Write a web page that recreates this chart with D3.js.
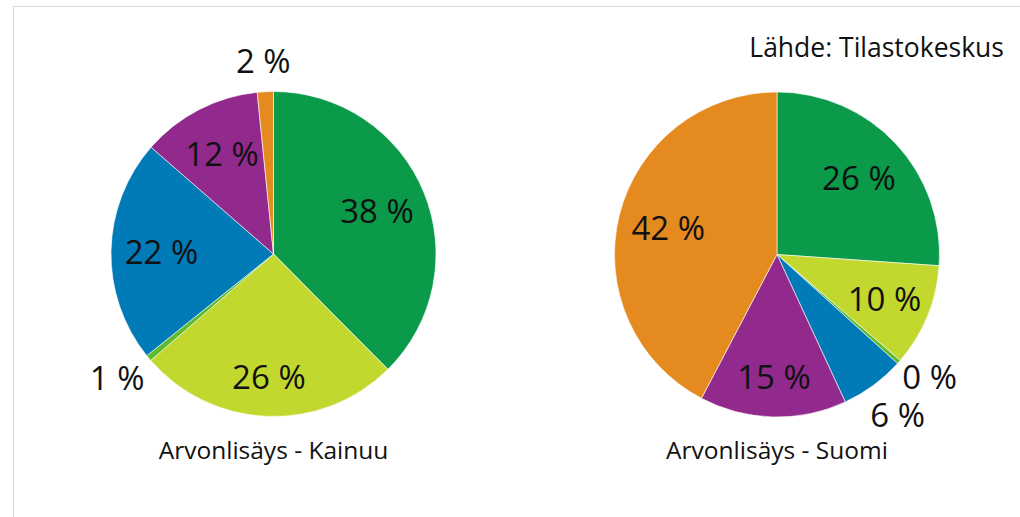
<!DOCTYPE html>
<html>
<head>
<meta charset="utf-8">
<script src="https://cdn.jsdelivr.net/npm/d3@7"></script>
<style>
  html, body { margin: 0; padding: 0; background: #fff; }
  svg { display: block; }
  text { font-family: "Open Sans", "Noto Sans", sans-serif; fill: #111; }
</style>
</head>
<body>
<svg id="chart" width="1020" height="517"></svg>
<script>
// ---- data ----
const categories = ["Sarja 1", "Sarja 2", "Sarja 3", "Sarja 4", "Sarja 5", "Sarja 6"];
const kainuuValues = [37.6, 26.1, 0.6, 22.2, 12.0, 1.6];
const kainuuLabels = ["38 %", "26 %", "1 %", "22 %", "12 %", "2 %"];
const suomiValues = [26.1, 10.2, 0.4, 6.4, 14.6, 42.3];
const suomiLabels = ["26 %", "10 %", "0 %", "6 %", "15 %", "42 %"];
const chartTitles = ["Arvonlisäys - Kainuu", "Arvonlisäys - Suomi"];
const sourceText = "Lähde: Tilastokeskus";

// ---- styles / layout ----
const colors = ["#0A9A4A", "#C3D82E", "#5FBA2C", "#007BB8", "#92298C", "#E48A1F"];
const W = 1020, H = 517;
const R = 162.5;
const centers = [[273.5, 254], [777, 254.5]];

const svg = d3.select("#chart");

// frame
svg.append("path")
  .attr("d", `M13.5,${H} L13.5,6.5 L${W},6.5`)
  .attr("fill", "none")
  .attr("stroke", "#d9d9d9")
  .attr("stroke-width", 1);

const color = d3.scaleOrdinal().domain(categories).range(colors);
const pie = d3.pie().sort(null).value(d => d.value);
const arc = d3.arc().innerRadius(0).outerRadius(R);

function drawPie(values, labels, center, title) {
  const data = categories.map((c, i) => ({ cat: c, value: values[i], label: labels[i] }));
  const g = svg.append("g").attr("transform", `translate(${center[0]},${center[1]})`);
  const arcs = pie(data);

  g.selectAll("path.slice")
    .data(arcs)
    .join("path")
    .attr("class", "slice")
    .attr("d", arc)
    .attr("fill", d => color(d.data.cat))
    .attr("stroke", "#fff")
    .attr("stroke-width", 0.6);

  const fs = 33, boxW = 54, boxH = 34;
  const pos = arcs.map(d => {
    const a = (d.startAngle + d.endAngle) / 2;
    const s = Math.sin(a), c = Math.cos(a);
    if (d.data.value < 7) {
      const r0 = R + 14;
      return { d, outside: true, x: r0 * s + s * boxW / 2, y: -r0 * c - c * boxH / 2 };
    }
    const r1 = 112 + 11 * Math.max(0, -c);
    return { d, outside: false, x: r1 * s, y: -r1 * c };
  });
  // simple vertical relaxation of outside labels that collide
  const outs = pos.filter(p => p.outside);
  for (let i = 0; i < outs.length; i++) {
    for (let j = i + 1; j < outs.length; j++) {
      const a = outs[i], b = outs[j];
      const dx = Math.abs(a.x - b.x), dy = Math.abs(a.y - b.y);
      if (dx < boxW && dy < 38) {
        const push = (38 - dy) / 2;
        const [top, bot] = a.y < b.y ? [a, b] : [b, a];
        top.y -= push; bot.y += push;
      }
    }
  }

  g.selectAll("text.lbl")
    .data(pos)
    .join("text")
    .attr("class", "lbl")
    .attr("text-anchor", "middle")
    .attr("dy", "0.36em")
    .style("font-size", fs + "px")
    .attr("x", p => p.x)
    .attr("y", p => p.y)
    .text(p => p.d.data.label);

  svg.append("text")
    .attr("x", center[0])
    .attr("y", 459)
    .attr("text-anchor", "middle")
    .style("font-size", "24.5px")
    .text(title);
}

drawPie(kainuuValues, kainuuLabels, centers[0], chartTitles[0]);
drawPie(suomiValues, suomiLabels, centers[1], chartTitles[1]);

svg.append("text")
  .attr("x", 1004)
  .attr("y", 57)
  .attr("text-anchor", "end")
  .style("font-size", "26.5px")
  .text(sourceText);
</script>
</body>
</html>
